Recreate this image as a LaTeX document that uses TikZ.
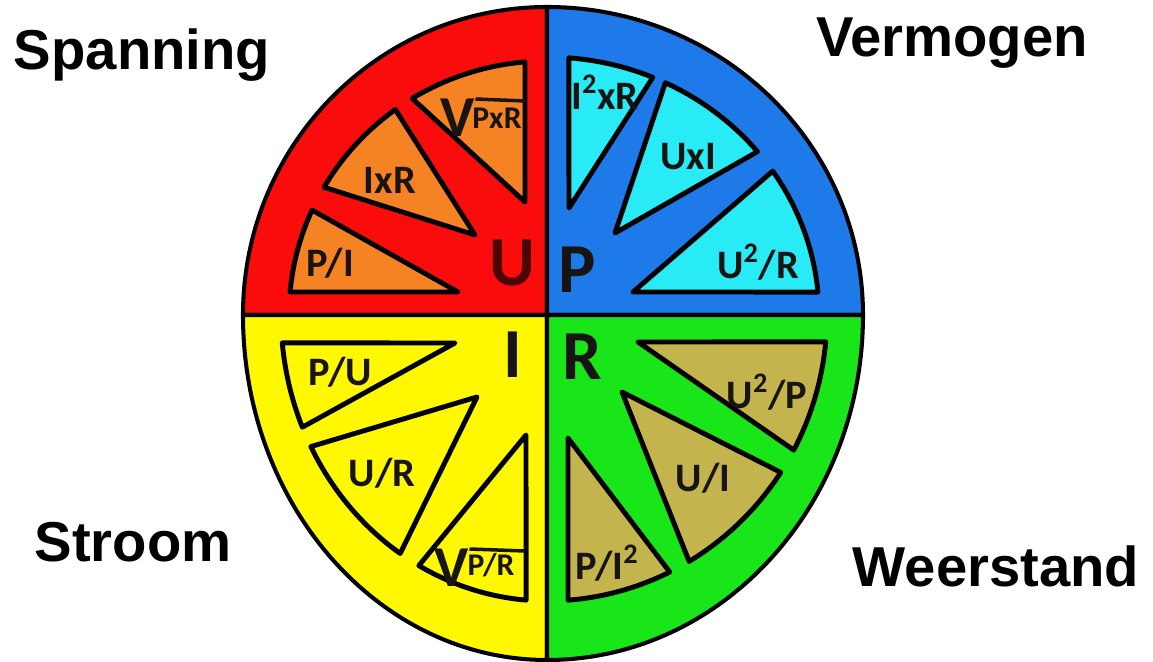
\documentclass[tikz,border=0pt]{standalone}
\usepackage{fontspec}
\newfontfamily\labfont{Carlito}
\newfontfamily\titlefont{Liberation Sans}
\definecolor{qred}{RGB}{250,12,12}
\definecolor{qorange}{RGB}{245,130,35}
\definecolor{qblue}{RGB}{30,122,232}
\definecolor{qcyan}{RGB}{40,235,245}
\definecolor{qyellow}{RGB}{255,248,0}
\definecolor{qgreen}{RGB}{25,230,25}
\definecolor{qolive}{RGB}{196,180,78}
\definecolor{qink}{RGB}{25,20,20}
\definecolor{qmaroon}{RGB}{75,5,5}
\begin{document}
\begin{tikzpicture}[x=0.02cm,y=0.02cm,
  rim/.style={draw=black,line width=2.3pt,line join=round},
  wedge/.style={draw=black,line width=2.8pt,line join=round},
  lab/.style={font=\labfont\bfseries\fontsize{23}{23}\selectfont, text=qink, inner sep=0pt},
  big/.style={font=\labfont\bfseries\fontsize{40}{40}\selectfont, text=qink, inner sep=0pt},
  title/.style={font=\titlefont\bfseries\fontsize{32}{32}\selectfont, anchor=base, inner sep=0pt},
  sm/.style={font=\labfont\bfseries\fontsize{18}{18}\selectfont, text=qink, anchor=base, inner sep=0pt},
  vee/.style={font=\labfont\bfseries\fontsize{33}{33}\selectfont, text=qink, anchor=north, inner sep=0pt},
  vinc/.style={draw=qink,line width=2pt}]
\fill[white] (-547,-347) rectangle (606,315);
\useasboundingbox (-547,-347) rectangle (606,315);
% quadrants
\path[rim,fill=qred] (0,0) -- (-304,0) arc[start angle=180,end angle=90,x radius=304,y radius=308] -- cycle;
\path[rim,fill=qblue] (0,0) -- (316,0) arc[start angle=0,end angle=90,x radius=316,y radius=308] -- cycle;
\path[rim,fill=qyellow] (0,0) -- (-304,0) arc[start angle=180,end angle=270,x radius=304,y radius=345] -- cycle;
\path[rim,fill=qgreen] (0,0) -- (316,0) arc[start angle=360,end angle=270,x radius=316,y radius=345] -- cycle;
% top-left wedges
\path[wedge,fill=qorange] (-89,23) -- (174.8:258 and 254) arc[start angle=174.8,end angle=155.6,x radius=258,y radius=254] -- cycle;
\path[wedge,fill=qorange] (-72,80) -- (149.8:258 and 254) arc[start angle=149.8,end angle=126,x radius=258,y radius=254] -- cycle;
\path[wedge,fill=qorange] (-22,113) -- (121.5:258 and 254) arc[start angle=121.5,end angle=94.9,x radius=258,y radius=254] -- cycle;
% top-right wedges
\path[wedge,fill=qcyan] (22,107) -- (85.4:272 and 258) arc[start angle=85.4,end angle=67.1,x radius=272,y radius=258] -- cycle;
\path[wedge,fill=qcyan] (68,82) -- (64.2:272 and 258) arc[start angle=64.2,end angle=39.3,x radius=272,y radius=258] -- cycle;
\path[wedge,fill=qcyan] (86,23) -- (33.9:272 and 258) arc[start angle=33.9,end angle=5.1,x radius=272,y radius=258] -- cycle;
% bottom-left wedges
\path[wedge,fill=qyellow] (-92,-28) -- (185.6:266 and 286) arc[start angle=185.6,end angle=203.1,x radius=266,y radius=286] -- cycle;
\path[wedge,fill=qyellow] (-70,-82) -- (207.4:266 and 286) arc[start angle=207.4,end angle=236.5,x radius=266,y radius=286] -- cycle;
\path[wedge,fill=qyellow] (-21,-120) -- (241.2:266 and 286) arc[start angle=241.2,end angle=265.5,x radius=266,y radius=286] -- cycle;
% bottom-right wedges
\path[wedge,fill=qolive] (91,-27) -- (354.6:280 and 286) arc[start angle=354.6,end angle=331.8,x radius=280,y radius=286] -- cycle;
\path[wedge,fill=qolive] (75,-77) -- (326.6:280 and 286) arc[start angle=326.6,end angle=300.5,x radius=280,y radius=286] -- cycle;
\path[wedge,fill=qolive] (21,-123) -- (296:280 and 286) arc[start angle=296,end angle=274.3,x radius=280,y radius=286] -- cycle;
% big letters
\node[big,text=qmaroon] (bu) at (-35,52) {U};
\node[big] (bp) at (30,45) {P};
\node[big] (bi) at (-34,-40) {I};
\node[big] (br) at (35,-42) {R};
% labels
\node[lab] (l1) at (-217,52) {P/I};
\node[lab] (l2) at (-157,135) {IxR};
\node[vee] (v1) at (-89,216) {V};
\node[sm] (s1) at (-50,186) {PxR};
\coordinate (e1) at (-22,214);
\draw[vinc] (v1.north east) -- (e1);
\node[lab] (l3) at (58,223) {I\textsuperscript{2}xR};
\node[lab] (l4) at (141,158) {UxI};
\node[lab] (l5) at (211,53) {U\textsuperscript{2}/R};
\node[lab] (l6) at (-207,-57) {P/U};
\node[lab] (l7) at (-165,-158) {U/R};
\node[vee] (v2) at (-95,-234) {V};
\node[sm] (s2) at (-56,-261) {P/R};
\coordinate (e2) at (-22,-236);
\draw[vinc] (v2.north east) -- (e2);
\node[lab] (l8) at (220,-77) {U\textsuperscript{2}/P};
\node[lab] (l9) at (156,-163) {U/I};
\node[lab] (l10) at (60,-248) {P/I\textsuperscript{2}};
% titles
\node[title] (t1) at (-405,245) {Spanning};
\node[title] (t2) at (405,258) {Vermogen};
\node[title] (t3) at (-414,-247) {Stroom};
\node[title] (t4) at (449,-272) {Weerstand};
\end{tikzpicture}
\end{document}
